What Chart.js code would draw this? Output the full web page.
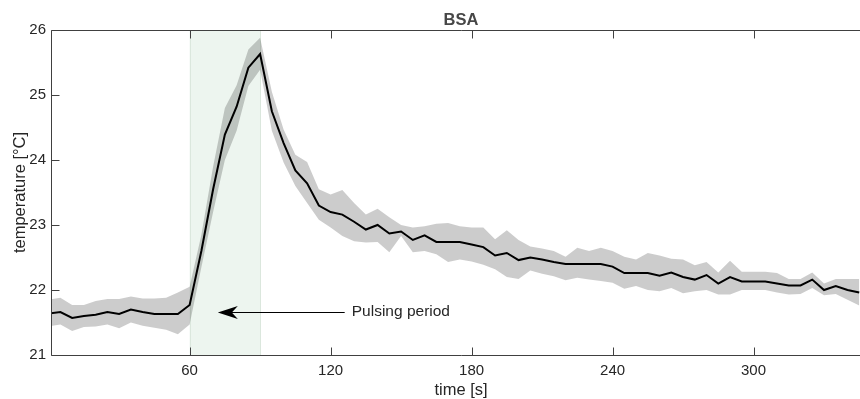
<!DOCTYPE html>
<html>
<head>
<meta charset="utf-8">
<script src="https://cdn.jsdelivr.net/npm/chart.js@4.4.1/dist/chart.umd.min.js"></script>
<style>
  html, body { margin: 0; padding: 0; background: #ffffff; overflow: hidden; }
  #wrap { width: 860px; height: 399px; overflow: hidden; position: relative; }
  canvas { display: block; }
</style>
</head>
<body>
<div id="wrap"><canvas id="c" width="880" height="399"></canvas></div>
<script>
// ---- data ----
const times = [0,5,10,15,20,25,30,35,40,45,50,55,60,65,70,75,80,85,90,95,
  100,105,110,115,120,125,130,135,140,145,150,155,160,165,170,175,180,185,190,195,
  200,205,210,215,220,225,230,235,240,245,250,255,260,265,270,275,280,285,290,295,
  300,305,310,315,320,325,330,335,340,345];

const meanTemp = [21.64,21.66,21.57,21.60,21.62,21.66,21.63,21.70,21.66,21.63,21.63,21.63,21.77,22.60,23.55,24.39,24.82,25.42,25.63,24.75,
  24.26,23.84,23.64,23.30,23.20,23.16,23.05,22.93,23.00,22.87,22.90,22.77,22.84,22.74,22.74,22.74,22.70,22.66,22.53,22.57,
  22.46,22.50,22.47,22.43,22.40,22.40,22.40,22.40,22.36,22.26,22.26,22.26,22.22,22.27,22.20,22.16,22.23,22.10,22.20,22.13,
  22.13,22.13,22.10,22.07,22.07,22.16,22.00,22.06,22.00,21.96];

const upperTemp = [21.85,21.88,21.77,21.77,21.83,21.86,21.86,21.90,21.87,21.87,21.88,21.96,22.05,22.85,23.90,24.80,25.15,25.70,25.88,25.05,
  24.47,24.08,23.97,23.55,23.47,23.54,23.34,23.16,23.25,23.12,23.00,22.96,22.98,23.02,23.03,22.98,22.96,22.96,22.78,22.92,
  22.77,22.67,22.64,22.60,22.51,22.65,22.60,22.65,22.60,22.51,22.47,22.57,22.53,22.48,22.47,22.38,22.43,22.27,22.45,22.28,
  22.28,22.28,22.26,22.17,22.17,22.27,22.10,22.17,22.17,22.17];

const lowerTemp = [21.44,21.47,21.37,21.43,21.44,21.47,21.41,21.50,21.45,21.42,21.39,21.32,21.47,22.35,23.20,24.00,24.45,25.14,25.39,24.45,
  23.96,23.60,23.34,23.08,22.96,22.83,22.75,22.73,22.74,22.58,22.83,22.58,22.60,22.55,22.43,22.47,22.44,22.39,22.32,22.20,
  22.17,22.30,22.25,22.21,22.15,22.19,22.16,22.14,22.11,22.02,22.06,22.00,21.98,22.03,21.95,21.98,22.00,21.93,21.93,22.00,
  22.00,22.00,21.96,21.93,21.94,22.03,21.92,21.94,21.85,21.76];

const xTicks = [60, 120, 180, 240, 300];
const yTicks = [21, 22, 23, 24, 25, 26];
const xRange = [1, 350];
const yRange = [21, 26];
const pulseStart = 60;
const pulseEnd = 90;
const arrowTail = [126, 21.66];
const arrowTip = [72, 21.66];
const arrowLabelPos = [129, 21.66];
const arrowLabel = 'Pulsing period';
const chartTitle = 'BSA';
const xTitle = 'time [s]';
const yTitle = 'temperature [°C]';

// ---- chart ----
const FONT = '"Liberation Sans", Arial, Helvetica, sans-serif';
Chart.defaults.font.family = FONT;
Chart.defaults.color = '#262626';

const pts = arr => times.map((t, i) => ({ x: t, y: arr[i] }));

const decor = {
  id: 'decor',
  beforeDatasetsDraw(chart) {
    const { ctx, chartArea: a, scales: { x } } = chart;
    const x0 = x.getPixelForValue(pulseStart), x1 = x.getPixelForValue(pulseEnd);
    ctx.save();
    ctx.fillStyle = '#edf5ef';
    ctx.fillRect(x0, a.top, x1 - x0, a.bottom - a.top);
    ctx.strokeStyle = '#dbe7dd';
    ctx.lineWidth = 1;
    ctx.beginPath();
    ctx.moveTo(Math.round(x0) + 0.5, a.top); ctx.lineTo(Math.round(x0) + 0.5, a.bottom);
    ctx.moveTo(Math.round(x1) + 0.5, a.top); ctx.lineTo(Math.round(x1) + 0.5, a.bottom);
    ctx.stroke();
    ctx.restore();
  },
  afterDraw(chart) {
    const { ctx, chartArea: a, scales: { x, y } } = chart;
    ctx.save();
    // frame
    ctx.strokeStyle = '#404040';
    ctx.lineWidth = 1;
    const L = Math.round(a.left) + 0.5, T = Math.round(a.top) + 0.5, B = Math.round(a.bottom) + 0.5, R = a.right;
    ctx.beginPath();
    ctx.moveTo(L, T); ctx.lineTo(R, T);
    ctx.moveTo(L, T); ctx.lineTo(L, B);
    ctx.moveTo(L, B); ctx.lineTo(R, B);
    // inward ticks
    xTicks.forEach(v => {
      const px = Math.round(x.getPixelForValue(v)) + 0.5;
      ctx.moveTo(px, B); ctx.lineTo(px, B - 8);
      ctx.moveTo(px, T); ctx.lineTo(px, T + 8);
    });
    yTicks.forEach(v => {
      const py = Math.round(y.getPixelForValue(v)) + 0.5;
      ctx.moveTo(L, py); ctx.lineTo(L + 8, py);
    });
    ctx.stroke();

    // arrow annotation
    const tx = x.getPixelForValue(arrowTail[0]), ty = Math.round(y.getPixelForValue(arrowTail[1])) + 0.5;
    const hx = x.getPixelForValue(arrowTip[0]), hy = ty;
    ctx.strokeStyle = '#000';
    ctx.fillStyle = '#000';
    ctx.beginPath();
    ctx.moveTo(tx, ty); ctx.lineTo(hx + 12, hy);
    ctx.stroke();
    ctx.beginPath();
    ctx.moveTo(hx, hy);
    ctx.lineTo(hx + 20, hy - 6.5);
    ctx.lineTo(hx + 14, hy);
    ctx.lineTo(hx + 20, hy + 6.5);
    ctx.closePath();
    ctx.fill();

    ctx.font = '15.5px ' + FONT;
    ctx.fillStyle = '#262626';
    ctx.textAlign = 'left';
    ctx.textBaseline = 'middle';
    ctx.fillText(arrowLabel, x.getPixelForValue(arrowLabelPos[0]), y.getPixelForValue(arrowLabelPos[1]));

    // title
    const cx = (a.left + a.right) / 2;
    ctx.font = 'bold 16.5px ' + FONT;
    ctx.fillStyle = '#474747';
    ctx.textAlign = 'center';
    ctx.textBaseline = 'middle';
    ctx.fillText(chartTitle, cx, 20);

    // axis titles
    ctx.font = '16.5px ' + FONT;
    ctx.fillStyle = '#262626';
    ctx.fillText(xTitle, cx, 390);
    ctx.translate(20, (a.top + a.bottom) / 2);
    ctx.rotate(-Math.PI / 2);
    ctx.fillText(yTitle, 0, 0);
    ctx.restore();
  }
};

new Chart(document.getElementById('c'), {
  type: 'line',
  data: {
    datasets: [
      { label: 'upper', data: pts(upperTemp), borderWidth: 0, pointRadius: 0,
        backgroundColor: 'rgba(0,0,0,0.2)', fill: '+1', tension: 0, order: 2 },
      { label: 'lower', data: pts(lowerTemp), borderWidth: 0, pointRadius: 0,
        fill: false, tension: 0, order: 2 },
      { label: 'mean', data: pts(meanTemp), borderColor: '#000', borderWidth: 2,
        pointRadius: 0, fill: false, tension: 0, order: 1 }
    ]
  },
  options: {
    responsive: false,
    animation: false,
    events: [],
    layout: { padding: { top: 30, right: 9, left: 0, bottom: 0 } },
    plugins: { legend: { display: false }, title: { display: false }, tooltip: { enabled: false } },
    scales: {
      x: {
        type: 'linear', min: xRange[0], max: xRange[1],
        afterBuildTicks: s => { s.ticks = xTicks.map(v => ({ value: v })); },
        afterFit: s => { s.height = 44; },
        grid: { display: false, drawTicks: false },
        border: { display: false },
        ticks: { padding: 7, font: { size: 15 }, color: '#262626', maxRotation: 0, autoSkip: false }
      },
      y: {
        type: 'linear', min: yRange[0], max: yRange[1],
        afterBuildTicks: s => { s.ticks = yTicks.map(v => ({ value: v })); },
        afterFit: s => { s.width = 51; },
        grid: { display: false, drawTicks: false },
        border: { display: false },
        ticks: { padding: 5, font: { size: 15 }, color: '#262626' }
      }
    }
  },
  plugins: [decor]
});
</script>
</body>
</html>
